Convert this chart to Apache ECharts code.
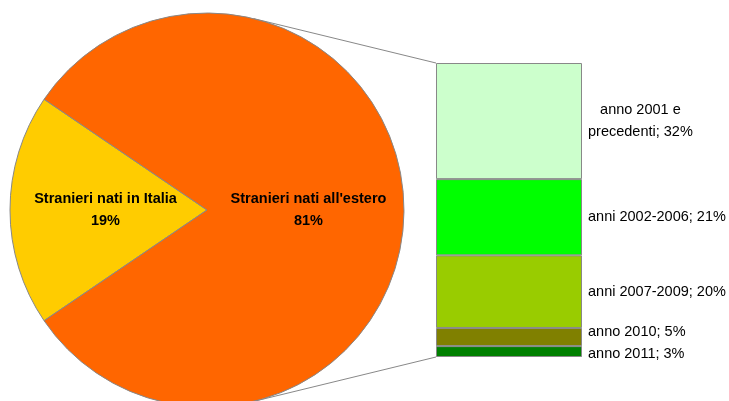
<!DOCTYPE html>
<html>
<head>
<meta charset="utf-8">
<script src="https://cdn.jsdelivr.net/npm/echarts@6/dist/echarts.min.js"></script>
<style>html,body{margin:0;padding:0;background:#fff}#c{width:729px;height:401px}</style>
</head>
<body>
<div id="c"></div>
<script>
// ---- data ----
var pieNames = ['Stranieri nati in Italia', "Stranieri nati all'estero"];
var pieValues = [19, 81];
var pieColors = ['#FFCC00', '#FF6600'];

var barNames = ['anno 2001 e\nprecedenti', 'anni 2002-2006', 'anni 2007-2009', 'anno 2010', 'anno 2011'];
var barValues = [32, 21, 20, 5, 3];
var barColors = ['#CCFFCC', '#00FF00', '#99CC00', '#808000', '#008000'];
var barLabelDy = [0, 0, 0, -5, 2];

// ---- layout ----
var W = 729, H = 401;
var cx = 207, cy = 210, R = 197;
var gL = 436, gT = 63, gW = 146, gH = 294;
var FONT = '"Liberation Sans", Arial, sans-serif';

var chart = echarts.init(document.getElementById('c'), null, {renderer: 'canvas'});

var total = pieValues.reduce(function (a, b) { return a + b; }, 0);
var barTotal = barValues.reduce(function (a, b) { return a + b; }, 0);
var half = pieValues[0] / total * 360 / 2;

// stacked bar series: bottom first
var barSeries = [];
for (var i = barValues.length - 1; i >= 0; i--) {
  (function (idx) {
    var multi = barNames[idx].indexOf('\n') >= 0;
    barSeries.push({
      type: 'bar',
      name: barNames[idx],
      stack: 'all',
      barWidth: '100%',
      xAxisIndex: 0, yAxisIndex: 0,
      data: [barValues[idx]],
      itemStyle: {color: barColors[idx], borderColor: '#888', borderWidth: 1},
      label: {
        show: true,
        position: 'right',
        distance: 6,
        offset: [0, barLabelDy[idx]],
        align: 'left',
        formatter: function () {
          var txt = barNames[idx] + '; ' + barValues[idx] + '%';
          var lines = txt.split('\n');
          return lines.map(function (l) { return '{' + (multi ? 'c' : 'l') + '|' + l + '}'; }).join('\n');
        },
        rich: {
          c: {align: 'center', fontFamily: FONT, fontSize: 14.5, color: '#000', lineHeight: 22},
          l: {align: 'left', fontFamily: FONT, fontSize: 14.5, color: '#000', lineHeight: 18}
        }
      },
      emphasis: {disabled: true},
      silent: true,
      z: 3
    });
  })(i);
}

// tangent connector lines from bar corners to pie circle
function tangentPoint(px, py, upper) {
  var dx = px - cx, dy = py - cy;
  var d = Math.sqrt(dx * dx + dy * dy);
  var base = Math.atan2(dy, dx);
  var a = Math.acos(R / d);
  var ang = upper ? base - a : base + a;
  return [cx + R * Math.cos(ang), cy + R * Math.sin(ang)];
}
var tTop = tangentPoint(gL, gT, true);
var tBot = tangentPoint(gL, gT + gH, false);

var option = {
  animation: false,
  backgroundColor: '#fff',
  grid: {left: gL, top: gT, width: gW, height: gH, containLabel: false},
  xAxis: {type: 'category', data: ['x'], show: false},
  yAxis: {type: 'value', min: 0, max: barTotal, show: false},
  graphic: [
    {type: 'line', z: 0, zlevel: 0, shape: {x1: tTop[0], y1: tTop[1], x2: gL, y2: gT}, style: {stroke: '#888', lineWidth: 1}},
    {type: 'line', z: 0, zlevel: 0, shape: {x1: tBot[0], y1: tBot[1], x2: gL, y2: gT + gH}, style: {stroke: '#888', lineWidth: 1}}
  ],
  series: [{
    type: 'pie',
    center: [cx, cy],
    radius: R,
    startAngle: 180 + half,
    clockwise: true,
    silent: true,
    z: 5,
    data: pieNames.map(function (n, k) {
      return {name: n, value: pieValues[k], itemStyle: {color: pieColors[k]}};
    }),
    itemStyle: {borderColor: '#888', borderWidth: 1},
    label: {
      show: true,
      position: 'inside',
      formatter: function (p) { return p.name + '\n' + Math.round(p.percent) + '%'; },
      fontFamily: FONT,
      fontSize: 14.5,
      fontWeight: 'bold',
      color: '#000',
      lineHeight: 22,
      align: 'center'
    },
    labelLine: {show: false},
    emphasis: {disabled: true}
  }].concat(barSeries)
};
chart.setOption(option);
</script>
</body>
</html>
